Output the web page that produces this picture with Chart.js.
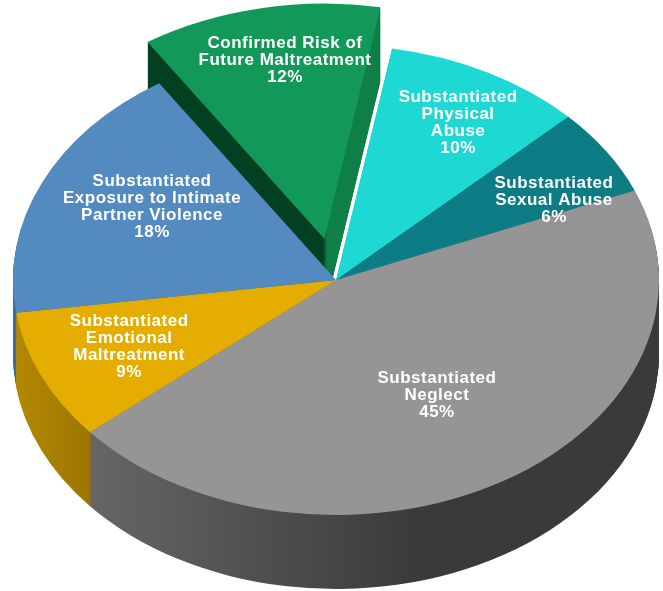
<!DOCTYPE html>
<html><head><meta charset="utf-8">
<script src="https://cdn.jsdelivr.net/npm/chart.js@4.4.1/dist/chart.umd.min.js"></script>
<style>html,body{margin:0;padding:0;background:#fff;overflow:hidden}canvas{display:block}</style>
</head><body>
<canvas id="c" width="663" height="591"></canvas>
<script>
// ---- data ----
const categories = [
  "Substantiated Physical Abuse",
  "Substantiated Sexual Abuse",
  "Substantiated Neglect",
  "Substantiated Emotional Maltreatment",
  "Substantiated Exposure to Intimate Partner Violence",
  "Confirmed Risk of Future Maltreatment"
];
const labelLines = [
  ["Substantiated", "Physical", "Abuse"],
  ["Substantiated", "Sexual Abuse"],
  ["Substantiated", "Neglect"],
  ["Substantiated", "Emotional", "Maltreatment"],
  ["Substantiated", "Exposure to Intimate", "Partner Violence"],
  ["Confirmed Risk of", "Future Maltreatment"]
];
const percents = [10, 6, 45, 9, 18, 12];
const exploded = [0, 0, 0, 0, 0, 1];

// ---- style ----
const topColors = ['#1ed8d3', '#0e7c84', '#959595', '#e4ad00', '#538bc0', '#12995a'];
const S = 0.7276, TOP_CY = 280, DEPTH = 74, EXPLODE_PX = 58;
const LABEL_F = [0.77, 0.756, 0.58, 0.70, 0.65, 0.77];
const LABEL_DA = [1.4, 6.4, -1.2, 0.4, 4.4, 2.5];

function sideFill(ctx, i) {
  let g;
  switch (i) {
    case 0: return '#17a9a4';
    case 1: return '#0a5b61';
    case 2:
      g = ctx.createLinearGradient(60, 0, 420, 0);
      g.addColorStop(0, '#6a6a6a'); g.addColorStop(1, '#3a3a3a'); return g;
    case 3:
      g = ctx.createLinearGradient(10, 0, 95, 0);
      g.addColorStop(0, '#b68b00'); g.addColorStop(1, '#9a7400'); return g;
    case 4: return '#3f6d98';
    default:
      g = ctx.createLinearGradient(0, 0, 663, 0);
      g.addColorStop(0, '#033f21'); g.addColorStop(323 / 663, '#033f21');
      g.addColorStop(327 / 663, '#0d7f47'); g.addColorStop(1, '#0d7f47'); return g;
  }
}

function proxyArc(arc, i, fill) {
  const p = Object.create(arc);
  const mid = (arc.startAngle + arc.endAngle) / 2;
  const ex = exploded[i] ? EXPLODE_PX : 0;
  p.x = arc.x + Math.cos(mid) * ex;
  p.y = arc.y + Math.sin(mid) * ex;
  p.options = Object.assign({}, arc.options, { backgroundColor: fill, borderWidth: 0, offset: 0 });
  return p;
}

const pie3d = {
  id: 'pie3d',
  beforeDatasetsDraw(chart) {
    const ctx = chart.ctx;
    const meta = chart.getDatasetMeta(0);
    const cy = meta.data[0].y;
    const fills = meta.data.map((_, i) => sideFill(ctx, i));
    // side walls
    for (let d = DEPTH; d >= 1; d--) {
      ctx.save();
      ctx.translate(0, TOP_CY + d); ctx.scale(1, S); ctx.translate(0, -cy);
      meta.data.forEach((arc, i) => proxyArc(arc, i, fills[i]).draw(ctx));
      ctx.restore();
    }
    // top faces
    ctx.save();
    ctx.translate(0, TOP_CY); ctx.scale(1, S); ctx.translate(0, -cy);
    meta.data.forEach((arc, i) => proxyArc(arc, i, arc.options.backgroundColor).draw(ctx));
    ctx.restore();
    // labels
    ctx.save();
    ctx.fillStyle = '#ffffff';
    ctx.font = "bold 17px 'Liberation Sans', Arial, sans-serif";
    try { ctx.letterSpacing = '0.5px'; } catch (e) {}
    ctx.textAlign = 'center';
    ctx.textBaseline = 'middle';
    meta.data.forEach((arc, i) => {
      const mid = (arc.startAngle + arc.endAngle) / 2;
      const a = mid + LABEL_DA[i] * Math.PI / 180;
      const ex = exploded[i] ? EXPLODE_PX : 0;
      const R = arc.outerRadius;
      const ux = arc.x + Math.cos(mid) * ex + Math.cos(a) * LABEL_F[i] * R;
      const uy = arc.y + Math.sin(mid) * ex + Math.sin(a) * LABEL_F[i] * R;
      const sx = ux, sy = TOP_CY + S * (uy - arc.y);
      const lines = labelLines[i].concat([percents[i] + '%']);
      const n = lines.length;
      lines.forEach((t, k) => ctx.fillText(t, sx, sy + (k - (n - 1) / 2) * 17));
    });
    ctx.restore();
    return false;
  }
};

new Chart(document.getElementById('c'), {
  type: 'pie',
  data: {
    labels: categories,
    datasets: [{ data: percents, backgroundColor: topColors, borderWidth: 0, clip: false }]
  },
  options: {
    responsive: false,
    animation: false,
    devicePixelRatio: 1,
    rotation: 10,
    radius: 323,
    layout: { padding: { left: 9 } },
    events: [],
    plugins: { legend: { display: false }, tooltip: { enabled: false } }
  },
  plugins: [pie3d]
});
</script>
</body></html>
